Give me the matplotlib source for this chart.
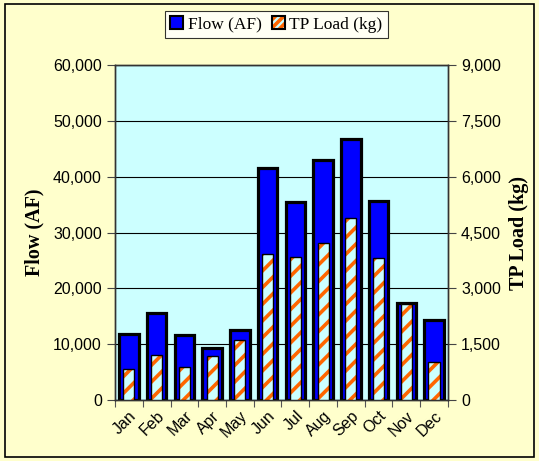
import matplotlib
matplotlib.use("Agg")
import matplotlib.pyplot as plt
from matplotlib.patches import Patch, Rectangle
from matplotlib.ticker import FuncFormatter, FixedLocator
from matplotlib.legend_handler import HandlerTuple
import numpy as np

months = ['Jan', 'Feb', 'Mar', 'Apr', 'May', 'Jun', 'Jul', 'Aug', 'Sep', 'Oct', 'Nov', 'Dec']
flow_af = [11900, 15600, 11700, 9400, 12600, 41500, 35500, 43000, 46700, 35700, 17300, 14400]
tp_load_kg = [840, 1220, 880, 1170, 1600, 3910, 3850, 4230, 4890, 3820, 2590, 1020]

flow_ticks = [0, 10000, 20000, 30000, 40000, 50000, 60000]
tp_ticks = [0, 1500, 3000, 4500, 6000, 7500, 9000]

plt.rcParams['hatch.linewidth'] = 2.6

BG_FIG = '#FFFFCC'
BG_AX = '#CCFFFF'
BLUE = '#0000FF'
ORANGE = '#FF6600'

fig = plt.figure(figsize=(5.39, 4.61), dpi=100, facecolor=BG_FIG)
ax = fig.add_axes([0.2134, 0.1323, 0.6176, 0.7267])
ax.set_facecolor(BG_AX)

x = np.arange(len(months))

# flow bars (left axis)
ax.bar(x, flow_af, width=0.7, color=BLUE, edgecolor='black', linewidth=2.3, zorder=3)
ax.set_ylim(0, 60000)
ax.set_xlim(-0.5, len(months) - 0.5)
ax.yaxis.set_major_locator(FixedLocator(flow_ticks))
ax.yaxis.set_major_formatter(FuncFormatter(lambda v, p: f'{int(v):,}'))
ax.grid(axis='y', color='black', linewidth=0.8, zorder=0)
ax.set_axisbelow(True)

# tp load bars (right axis)
ax2 = ax.twinx()
ax2.bar(x, tp_load_kg, width=0.4, color=BG_AX, edgecolor=ORANGE, hatch='//', linewidth=0, zorder=3)
ax2.bar(x, tp_load_kg, width=0.4, color='none', edgecolor='black', linewidth=1.0, zorder=4)
ax2.set_ylim(0, 9000)
ax2.yaxis.set_major_locator(FixedLocator(tp_ticks))
ax2.yaxis.set_major_formatter(FuncFormatter(lambda v, p: f'{int(v):,}'))

# x ticks between categories, labels centred
ax.set_xticks(np.arange(len(months) + 1) - 0.5)
ax.set_xticklabels([])
ax.set_xticks(x, minor=True)
ax.set_xticklabels(months, minor=True, rotation=45, ha='right', rotation_mode='anchor',
                   fontsize=11.5, family='Liberation Sans')
ax.tick_params(axis='x', which='minor', length=0, pad=6)
ax.tick_params(axis='x', which='major', length=5, direction='out', color='#555555')

ax.tick_params(axis='y', length=6, direction='out', color='#444444', labelsize=11.5)
ax2.tick_params(axis='y', length=6, direction='out', color='#444444', labelsize=11.5)
for lab in ax.get_yticklabels() + ax2.get_yticklabels():
    lab.set_family('Liberation Sans')

for a in (ax, ax2):
    for s in a.spines.values():
        s.set_color('#333333')
        s.set_linewidth(1.0)

ax.set_ylabel('Flow (AF)', family='Liberation Serif', fontweight='bold', fontsize=14.5, labelpad=6)
ax2.set_ylabel('TP Load (kg)', family='Liberation Serif', fontweight='bold', fontsize=14.5, labelpad=6)

# legend
h_flow = Patch(facecolor=BLUE, edgecolor='black', linewidth=1.5)
h_tp = (Patch(facecolor=BG_AX, edgecolor=ORANGE, hatch='////', linewidth=0),
        Patch(facecolor='none', edgecolor='black', linewidth=1.5))
leg = fig.legend([h_flow, h_tp], ['Flow (AF)', 'TP Load (kg)'], loc='center',
                 bbox_to_anchor=(0.513, 0.947), ncol=2, frameon=True, fancybox=False,
                 handlelength=0.75, handleheight=0.75, handletextpad=0.25, columnspacing=0.6,
                 borderpad=0.3, prop={'family': 'Liberation Serif', 'size': 12.5},
                 handler_map={tuple: HandlerTuple(ndivide=1, pad=0)})
leg.get_frame().set_edgecolor('black')
leg.get_frame().set_linewidth(0.8)
leg.get_frame().set_facecolor('white')

# outer chart border
fig.patches.append(Rectangle((0.009, 0.009), 0.982, 0.982, transform=fig.transFigure,
                             fill=False, edgecolor='black', linewidth=1.2))

fig.savefig('out.png', dpi=100, facecolor=BG_FIG)
